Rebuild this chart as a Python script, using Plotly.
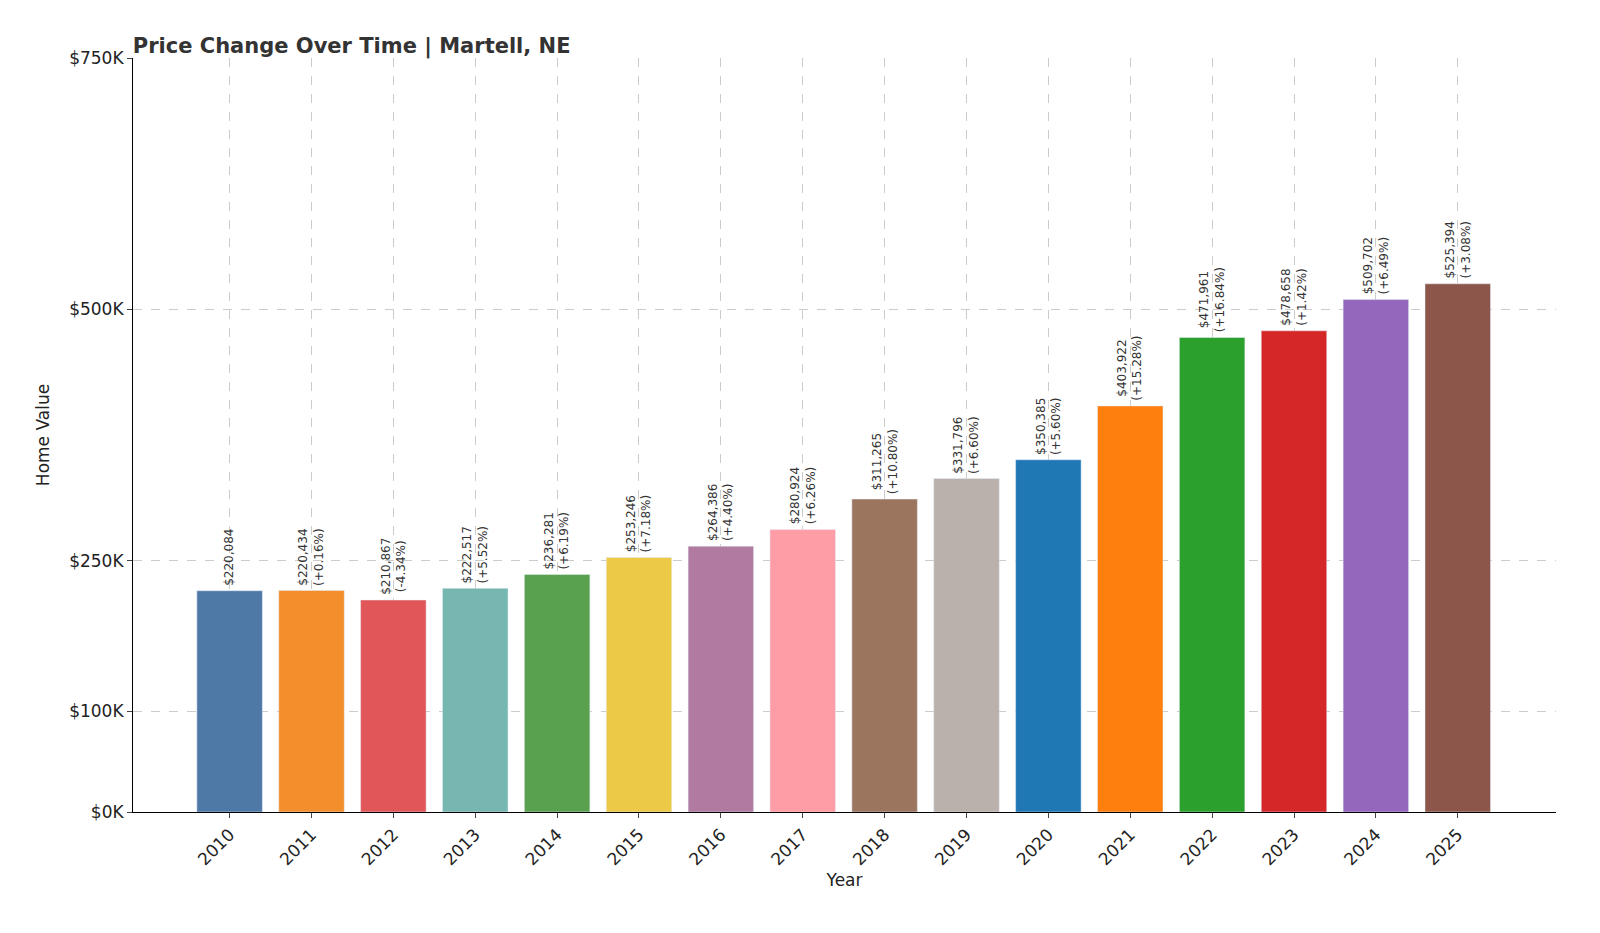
import plotly.graph_objects as go

years = list(range(2010, 2026))
values = [220084, 220434, 210867, 222517, 236281, 253246, 264386, 280924, 311265,
          331796, 350385, 403922, 471961, 478658, 509702, 525394]
changes = [None, "+0.16%", "-4.34%", "+5.52%", "+6.19%", "+7.18%", "+4.40%", "+6.26%",
           "+10.80%", "+6.60%", "+5.60%", "+15.28%", "+16.84%", "+1.42%", "+6.49%", "+3.08%"]
colors = ["#4e79a7", "#f28e2b", "#e15759", "#76b7b2", "#59a14f", "#edc948", "#b07aa1",
          "#ff9da7", "#9c755f", "#bab0ac", "#1f77b4", "#ff7f0e", "#2ca02c", "#d62728",
          "#9467bd", "#8c564b"]
ytick_vals = [0, 100000, 250000, 500000, 750000]
ytick_text = ["$0K", "$100K", "$250K", "$500K", "$750K"]

fig = go.Figure(go.Bar(x=years, y=values, marker_color=colors, width=0.8, hoverinfo="skip"))

for yr, v, c in zip(years, values, changes):
    txt = f"${v:,}" if c is None else f"${v:,}<br>({c})"
    fig.add_annotation(x=yr, y=v, text=txt, textangle=-90, showarrow=False,
                       yanchor="bottom", yshift=3, font=dict(size=12, color="#333"))

grid = dict(showgrid=True, gridcolor="#cccccc", griddash="dash", gridwidth=1)
fig.update_layout(
    width=1600, height=933, plot_bgcolor="white", paper_bgcolor="white",
    margin=dict(l=125, r=52, t=50, b=129),
    font=dict(family="DejaVu Sans", color="#222"),
    title=dict(text="<b>Price Change Over Time | Martell, NE</b>", x=0.078, xanchor="left",
               y=0.967, font=dict(size=21, color="#333")),
    showlegend=False,
    xaxis=dict(tickmode="array", tickvals=years, ticktext=[str(y) for y in years],
               tickangle=-45, range=[2010 - 1.18, 2025 + 1.2], tickfont=dict(size=17),
               title=dict(text="Year", font=dict(size=17), standoff=5),
               showline=True, linecolor="black", ticks="outside", **grid),
    yaxis=dict(tickmode="array", tickvals=ytick_vals, ticktext=ytick_text,
               range=[0, 750000], tickfont=dict(size=17),
               title=dict(text="Home Value", font=dict(size=17)),
               showline=True, linecolor="black", ticks="outside", **grid),
)
fig.write_html("out.html")
